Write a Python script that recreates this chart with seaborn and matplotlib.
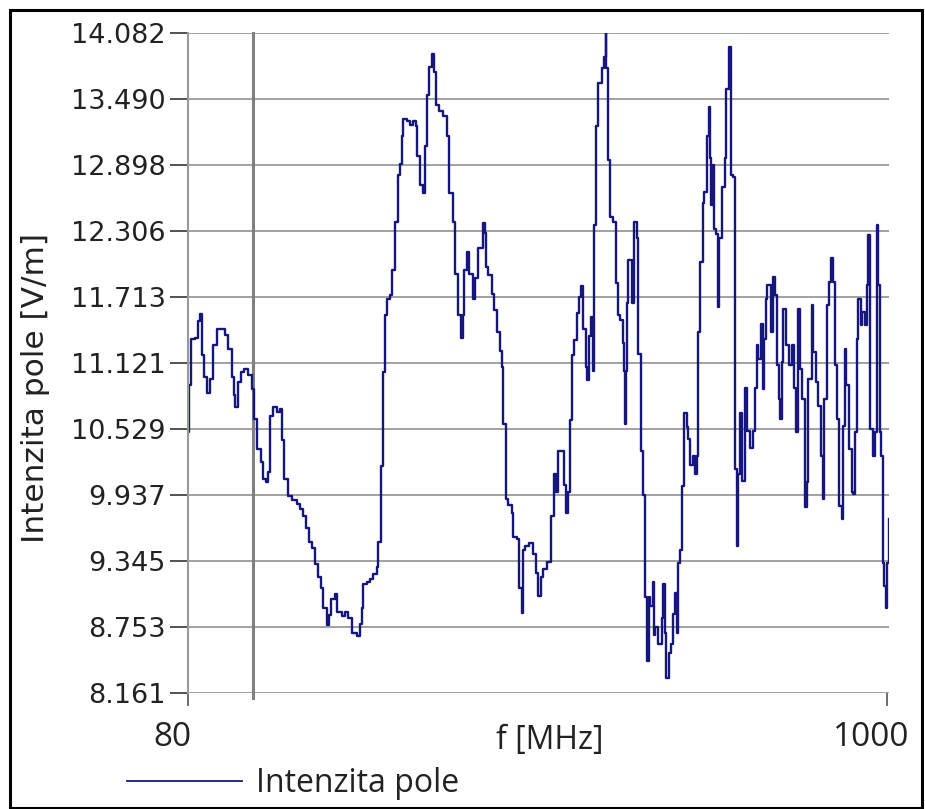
import matplotlib
matplotlib.use("Agg")
import matplotlib.pyplot as plt
from matplotlib.patches import Rectangle
from matplotlib.transforms import ScaledTranslation
import seaborn as sns
import pandas as pd

# ---- data ----
freq_mhz = [
    80, 81, 84, 89, 93, 96, 98, 101, 105, 109, 113, 118, 122, 129, 133, 138, 141, 142, 146, 150,
    154, 159, 164, 167, 171, 176, 179, 183, 185, 188, 192, 197, 201, 204, 206, 212, 217, 223, 227, 231,
    235, 239, 243, 247, 251, 255, 258, 263, 266, 268, 273, 276, 283, 287, 291, 296, 302, 306, 309, 310,
    316, 320, 323, 329, 330, 334, 337, 339, 342, 346, 349, 352, 356, 359, 362, 363, 368, 372, 376, 380,
    381, 385, 389, 392, 395, 397, 401, 404, 406, 410, 416, 421, 424, 429, 431, 435, 439, 442, 443, 447,
    450, 455, 458, 462, 468, 471, 472, 475, 480, 483, 487, 491, 493, 495, 499, 501, 506, 508, 513, 516,
    520, 521, 524, 529, 534, 538, 541, 545, 547, 553, 558, 562, 564, 567, 572, 575, 578, 580, 583, 585,
    588, 592, 595, 597, 600, 604, 605, 608, 610, 613, 614, 617, 620, 625, 628, 630, 631, 633, 635, 639,
    643, 646, 649, 653, 654, 655, 657, 658, 660, 664, 667, 671, 672, 676, 679, 682, 684, 687, 688, 692,
    693, 695, 699, 704, 705, 708, 710, 713, 716, 718, 721, 724, 725, 728, 730, 733, 737, 739, 741, 745,
    747, 750, 751, 754, 758, 760, 763, 766, 767, 768, 771, 772, 775, 778, 779, 783, 787, 789, 792, 795,
    797, 800, 803, 804, 807, 810, 813, 816, 820, 824, 826, 829, 830, 834, 837, 839, 841, 843, 847, 850,
    853, 855, 858, 860, 862, 864, 868, 871, 875, 878, 880, 883, 886, 889, 892, 895, 897, 901, 903, 907,
    909, 913, 916, 918, 921, 924, 926, 929, 932, 934, 937, 941, 942, 945, 947, 950, 954, 955, 958, 961,
    962, 966, 968, 971, 974, 975, 978, 982, 984, 987, 988, 991, 992, 995, 996, 999, 1000, 1003,
]
field_vm = [
    10.50, 10.92, 11.34, 11.35, 11.50, 11.56, 11.19, 11.00, 10.85, 10.98, 11.28, 11.43, 11.43, 11.37, 11.25, 11.00, 10.83, 10.73, 10.95, 11.04,
    11.07, 11.01, 10.89, 10.62, 10.35, 10.23, 10.08, 10.05, 10.14, 10.65, 10.73, 10.68, 10.71, 10.43, 10.08, 9.93, 9.89, 9.86, 9.81, 9.75,
    9.64, 9.52, 9.46, 9.32, 9.20, 9.10, 8.92, 8.77, 8.86, 9.00, 9.05, 8.89, 8.85, 8.89, 8.83, 8.70, 8.67, 8.78, 8.92, 9.14,
    9.16, 9.18, 9.23, 9.29, 9.52, 10.20, 11.04, 11.55, 11.70, 11.73, 11.96, 12.39, 12.81, 12.91, 13.16, 13.31, 13.29, 13.26, 13.29, 13.25,
    12.98, 12.72, 12.65, 13.07, 13.53, 13.78, 13.89, 13.73, 13.44, 13.38, 13.34, 13.16, 12.65, 12.39, 11.92, 11.55, 11.35, 11.55, 11.96, 12.12,
    11.92, 11.70, 11.88, 12.15, 12.38, 12.29, 11.98, 11.91, 11.74, 11.60, 11.40, 11.23, 11.09, 10.57, 9.90, 9.85, 9.78, 9.56, 9.54, 9.10,
    8.88, 9.44, 9.48, 9.51, 9.41, 9.24, 9.03, 9.20, 9.27, 9.34, 9.75, 10.13, 9.96, 10.33, 10.33, 10.03, 9.78, 9.96, 10.61, 11.19,
    11.33, 11.57, 11.71, 11.81, 11.43, 11.09, 10.97, 11.36, 11.53, 11.05, 12.36, 13.25, 13.63, 13.77, 13.87, 14.08, 13.77, 12.94, 12.43, 12.39,
    11.84, 11.55, 11.51, 11.30, 11.05, 10.57, 11.05, 11.66, 12.05, 11.66, 12.39, 12.24, 11.20, 10.33, 9.94, 9.02, 8.45, 9.02, 8.94, 9.16,
    8.68, 8.75, 8.60, 8.83, 9.14, 8.70, 8.30, 8.52, 8.60, 8.87, 9.06, 8.70, 9.33, 9.44, 10.02, 10.67, 10.55, 10.44, 10.21, 10.29,
    10.13, 10.29, 11.40, 12.03, 12.56, 12.66, 13.16, 13.42, 12.96, 12.54, 12.90, 12.32, 12.28, 11.62, 12.24, 12.70, 12.96, 13.58, 13.96, 12.81,
    12.79, 10.17, 9.48, 10.13, 10.67, 10.06, 10.90, 10.51, 10.36, 10.51, 10.90, 11.28, 11.16, 11.47, 10.89, 11.34, 11.70, 11.82, 11.40, 11.89,
    11.73, 11.10, 10.80, 10.62, 11.13, 11.61, 11.28, 11.10, 11.28, 10.90, 10.50, 11.61, 11.07, 10.80, 9.83, 10.05, 10.98, 11.64, 11.22, 10.95,
    10.74, 10.29, 9.90, 10.80, 11.64, 11.85, 12.06, 11.85, 11.10, 10.62, 9.84, 9.72, 10.56, 11.25, 10.92, 10.35, 9.96, 9.95, 10.50, 11.34,
    11.70, 11.46, 11.58, 11.46, 11.82, 12.27, 10.53, 10.29, 10.50, 12.36, 11.82, 10.50, 10.29, 9.33, 9.12, 8.92, 9.33, 9.72,
]
ytick_values = [8.161, 8.753, 9.345, 9.937, 10.529, 11.121, 11.713, 12.306, 12.898, 13.490, 14.082]
ytick_labels = ["8.161", "8.753", "9.345", "9.937", "10.529", "11.121", "11.713",
                "12.306", "12.898", "13.490", "14.082"]
xtick_values = [80, 1000]
xtick_labels = ["80", "1000"]
marker_freq = 166
series_name = "Intenzita pole"
x_label = "f [MHz]"
y_label = "Intenzita pole [V/m]"

df = pd.DataFrame({"f": freq_mhz, "E": field_vm})

W, H = 925, 809
fig = plt.figure(figsize=(W / 100, H / 100), dpi=100)
fig.patch.set_facecolor("white")
ax = fig.add_axes([188 / W, 1 - 693 / H, (889 - 188) / W, 660 / H])
ax.set_facecolor("white")

line_color = "#16167e"
sns.lineplot(data=df, x="f", y="E", ax=ax, estimator=None, sort=False,
             drawstyle="steps-post", color=line_color, linewidth=1.7,
             label=series_name)

ax.set_xlim(80, 1003)
ax.set_ylim(8.161, 14.082)
ax.set_yticks(ytick_values)
ax.set_yticklabels(ytick_labels)
ax.set_xticks(xtick_values)
ax.set_xticklabels(xtick_labels)

ax.grid(axis="y", color="#9a9a9a", linewidth=1.3)
ax.grid(axis="x", visible=False)
ax.set_axisbelow(True)
for s in ["top", "right", "bottom"]:
    ax.spines[s].set_visible(False)
ax.spines["left"].set_color("#9a9a9a")
ax.spines["left"].set_linewidth(1.5)

ax.axvline(marker_freq, color="#808080", linewidth=2.2, ymin=-0.008, ymax=1.0,
           clip_on=False, zorder=1)

ax.tick_params(axis="y", length=13, width=1.3, color="#444444", pad=3,
               labelsize=19.5, labelcolor="#222222")
for lab in ax.get_yticklabels():
    lab.set_fontfamily("DejaVu Sans")
ax.tick_params(axis="x", length=9, width=1.2, color="#555555", pad=11,
               labelsize=24, labelcolor="#222222")
for lab in ax.get_xticklabels():
    lab.set_fontfamily("Open Sans")
    lab.set_transform(lab.get_transform() + ScaledTranslation(-0.16, 0, fig.dpi_scale_trans))

ax.set_xlabel(x_label, fontfamily="Open Sans", fontsize=23, color="#222222")
ax.xaxis.set_label_coords((550 - 188) / 701, (693 - 741) / 660)
ax.xaxis.label.set_va("center")
ax.set_ylabel(y_label, fontfamily="DejaVu Sans", fontsize=22.5, color="#222222")
ax.yaxis.set_label_coords((36 - 188) / 701, (693 - 388) / 660)
ax.yaxis.label.set_va("center")

leg = ax.legend(loc="center left", bbox_to_anchor=(127 / W, 1 - 784 / H),
                bbox_transform=fig.transFigure, frameon=False,
                handlelength=3.6, handletextpad=0.45, borderpad=0, borderaxespad=0,
                prop={"family": "Open Sans", "size": 23})
for h in leg.get_lines():
    h.set_linewidth(1.3)
for t in leg.get_texts():
    t.set_color("#222222")

fig.add_artist(Rectangle((10 / W, 1 - 808 / H), (922 - 10) / W, (808 - 10) / H,
                         transform=fig.transFigure, fill=False, edgecolor="black",
                         linewidth=2.2))

fig.savefig("out.png", dpi=100, facecolor="white")
